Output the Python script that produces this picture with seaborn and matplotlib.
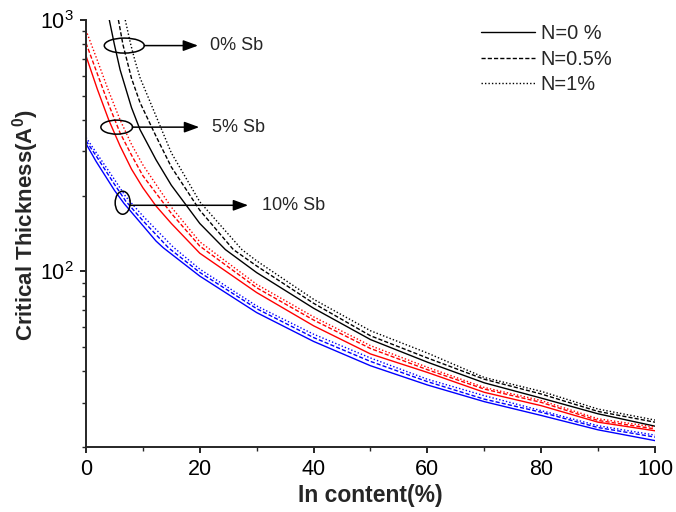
import numpy as np
import pandas as pd
import seaborn as sns
import matplotlib
matplotlib.use("Agg")
import matplotlib.pyplot as plt
from matplotlib.patches import Ellipse
from matplotlib.lines import Line2D
from matplotlib.ticker import MultipleLocator, NullFormatter

# ---------------- data ----------------
# 0% Sb
x_sb0_n0 = [4.1, 5.0, 6, 8, 9.5, 12.3, 15, 20, 24.5, 30, 40, 50, 60, 70, 80, 90, 100]
h_sb0_n0 = [1000, 797, 633, 448, 366, 278, 220, 155, 122, 98.8, 71.3, 53.5, 43.5, 36.0, 31.3, 27.1, 24.2]
x_sb0_n05 = [5.7, 6.5, 8, 9.5, 12.3, 15, 20, 25.9, 30, 40, 50, 60, 70, 80, 90, 100]
h_sb0_n05 = [1000, 797, 586, 469, 345, 260, 175, 122, 105, 74.6, 55.4, 45.2, 37.2, 32.5, 27.7, 25.1]
x_sb0_n1 = [6.9, 7.8, 8.6, 9.5, 12.3, 15, 20, 27.4, 30, 40, 50, 60, 70, 80, 90, 100]
h_sb0_n1 = [1000, 810, 690, 589, 415, 296, 189, 122, 110, 77.4, 58.0, 47.3, 37.8, 33.3, 28.3, 25.6]

# 5% Sb
x_sb5_n0 = [0, 2, 4, 6, 8, 10, 12.3, 15, 20, 30, 40, 50, 60, 70, 80, 90, 100]
h_sb5_n0 = [720, 530, 400, 315, 255, 215, 182, 155, 118, 82.3, 60.7, 46.9, 39.6, 33.0, 29.2, 25.1, 23.2]
x_sb5_n05 = [0, 2, 4, 6, 8, 10, 15, 20, 30, 40, 50, 60, 70, 80, 90, 100]
h_sb5_n05 = [810, 610, 460, 355, 290, 240, 170, 126, 86.0, 64.0, 49.3, 40.6, 34.0, 30.1, 25.5, 23.6]
x_sb5_n1 = [0, 2, 4, 6, 8, 10, 15, 20, 30, 40, 50, 60, 70, 80, 90, 100]
h_sb5_n1 = [910, 690, 520, 400, 320, 265, 180, 131, 88.7, 65.9, 50.6, 41.5, 34.5, 30.6, 25.9, 24.0]

# 10% Sb
x_sb10_n0 = [0, 1.76, 5, 6.7, 10, 12.3, 13.6, 20, 30, 40, 50, 60, 70, 80, 90, 100]
h_sb10_n0 = [322, 274, 210, 186, 152, 132, 124, 95.7, 68.5, 52.6, 42.1, 35.3, 30.3, 26.7, 23.4, 21.2]
x_sb10_n05 = [0, 2, 5, 7, 10, 14.5, 20, 30, 40, 50, 60, 70, 80, 90, 100]
h_sb10_n05 = [331, 283, 222, 190, 159, 124, 99.0, 71.0, 54.5, 43.8, 36.4, 31.0, 27.5, 23.9, 21.9]
x_sb10_n1 = [0, 2, 5, 7, 10, 15.3, 20, 30, 40, 50, 60, 70, 80, 90, 100]
h_sb10_n1 = [341, 292, 232, 198, 166, 125, 102.0, 72.8, 56.2, 45.2, 37.2, 32.0, 27.9, 24.3, 22.3]

sb_levels = ["0% Sb", "5% Sb", "10% Sb"]
n_levels = ["N=0 %", "N=0.5%", "N=1%"]
series = {
    ("0% Sb", "N=0 %"): (x_sb0_n0, h_sb0_n0),
    ("0% Sb", "N=0.5%"): (x_sb0_n05, h_sb0_n05),
    ("0% Sb", "N=1%"): (x_sb0_n1, h_sb0_n1),
    ("5% Sb", "N=0 %"): (x_sb5_n0, h_sb5_n0),
    ("5% Sb", "N=0.5%"): (x_sb5_n05, h_sb5_n05),
    ("5% Sb", "N=1%"): (x_sb5_n1, h_sb5_n1),
    ("10% Sb", "N=0 %"): (x_sb10_n0, h_sb10_n0),
    ("10% Sb", "N=0.5%"): (x_sb10_n05, h_sb10_n05),
    ("10% Sb", "N=1%"): (x_sb10_n1, h_sb10_n1),
}
rows = []
for (sb, n), (xs, hs) in series.items():
    for xv, hv in zip(xs, hs):
        rows.append({"In": xv, "h": hv, "Sb": sb, "N": n})
df = pd.DataFrame(rows)

# ---------------- style ----------------
sns.set_style("ticks")
plt.rcParams["font.family"] = ["Liberation Sans", "DejaVu Sans"]
plt.rcParams["mathtext.fontset"] = "custom"
plt.rcParams["mathtext.rm"] = "Liberation Sans"
plt.rcParams["mathtext.it"] = "Liberation Sans"
plt.rcParams["mathtext.bf"] = "Liberation Sans:bold"
plt.rcParams["mathtext.default"] = "regular"

fig = plt.figure(figsize=(6.76, 5.12), dpi=100)
ax = fig.add_axes([0.1272, 0.127, 0.8417, 0.834])

palette = {"0% Sb": "#000000", "5% Sb": "#ff0000", "10% Sb": "#0000ff"}
dashes = {"N=0 %": "", "N=0.5%": (3, 1.5), "N=1%": (1, 1.5)}

sns.lineplot(data=df, x="In", y="h", hue="Sb", style="N", hue_order=sb_levels,
             style_order=n_levels, palette=palette, dashes=dashes,
             estimator=None, sort=True, lw=1.0, legend=False, ax=ax)

ax.set_yscale("log")
ax.set_xlim(0, 100)
ax.set_ylim(20, 1000)
ax.xaxis.set_major_locator(MultipleLocator(20))
ax.xaxis.set_minor_locator(MultipleLocator(10))
ax.yaxis.set_minor_formatter(NullFormatter())

for s in ["top", "right"]:
    ax.spines[s].set_visible(False)
for s in ["left", "bottom"]:
    ax.spines[s].set_linewidth(1.4)
ax.tick_params(which="major", direction="out", length=4.5, width=1.2,
               labelsize=15.5, pad=4, colors="black")
ax.tick_params(which="minor", direction="out", length=3, width=1.0)

ax.set_xlabel("In content(%)", fontsize=16.5, fontweight="bold", labelpad=3)
ax.set_ylabel(r"Critical Thickness(A$^{0}$)", fontsize=16, fontweight="bold")
ax.yaxis.set_label_coords(-0.079, 0.52)

# ---------------- annotations ----------------
ann = [
    # (ellipse centre x, y, width, height, arrow start x, arrow end x, arrow y, text x, label)
    (0.0673, 0.940, 0.0703, 0.0351, 0.1025, 0.197, 0.940, 0.218, "0% Sb"),
    (0.0540, 0.749, 0.0557, 0.0328, 0.0814, 0.199, 0.749, 0.221, "5% Sb"),
    (0.0645, 0.572, 0.0264, 0.0539, 0.0773, 0.285, 0.566, 0.309, "10% Sb"),
]
for cx, cy, w, h, xa, xb, ya, xt, lab in ann:
    ax.add_patch(Ellipse((cx, cy), w, h, transform=ax.transAxes, fill=False,
                         edgecolor="black", lw=1.1, clip_on=False, zorder=5))
    ax.annotate("", xy=(xb, ya), xytext=(xa, ya), xycoords="axes fraction",
                textcoords="axes fraction",
                arrowprops=dict(arrowstyle="-|>,head_length=0.6,head_width=0.22",
                                color="black", lw=1.1, mutation_scale=15,
                                shrinkA=0, shrinkB=0))
    ax.text(xt, ya, lab, transform=ax.transAxes, va="center", ha="left",
            fontsize=13)

# ---------------- legend ----------------
handles = [Line2D([], [], color="black", lw=1.0, linestyle="-"),
           Line2D([], [], color="black", lw=1.0, dashes=(3, 1.5)),
           Line2D([], [], color="black", lw=1.0, dashes=(1, 1.5))]
ax.legend(handles, n_levels, loc="upper left", bbox_to_anchor=(0.694, 0.99),
          frameon=False, borderpad=0, borderaxespad=0, handlelength=2.7,
          handletextpad=0.3, labelspacing=0.33, fontsize=14.4)

fig.savefig("out.png", dpi=100)
